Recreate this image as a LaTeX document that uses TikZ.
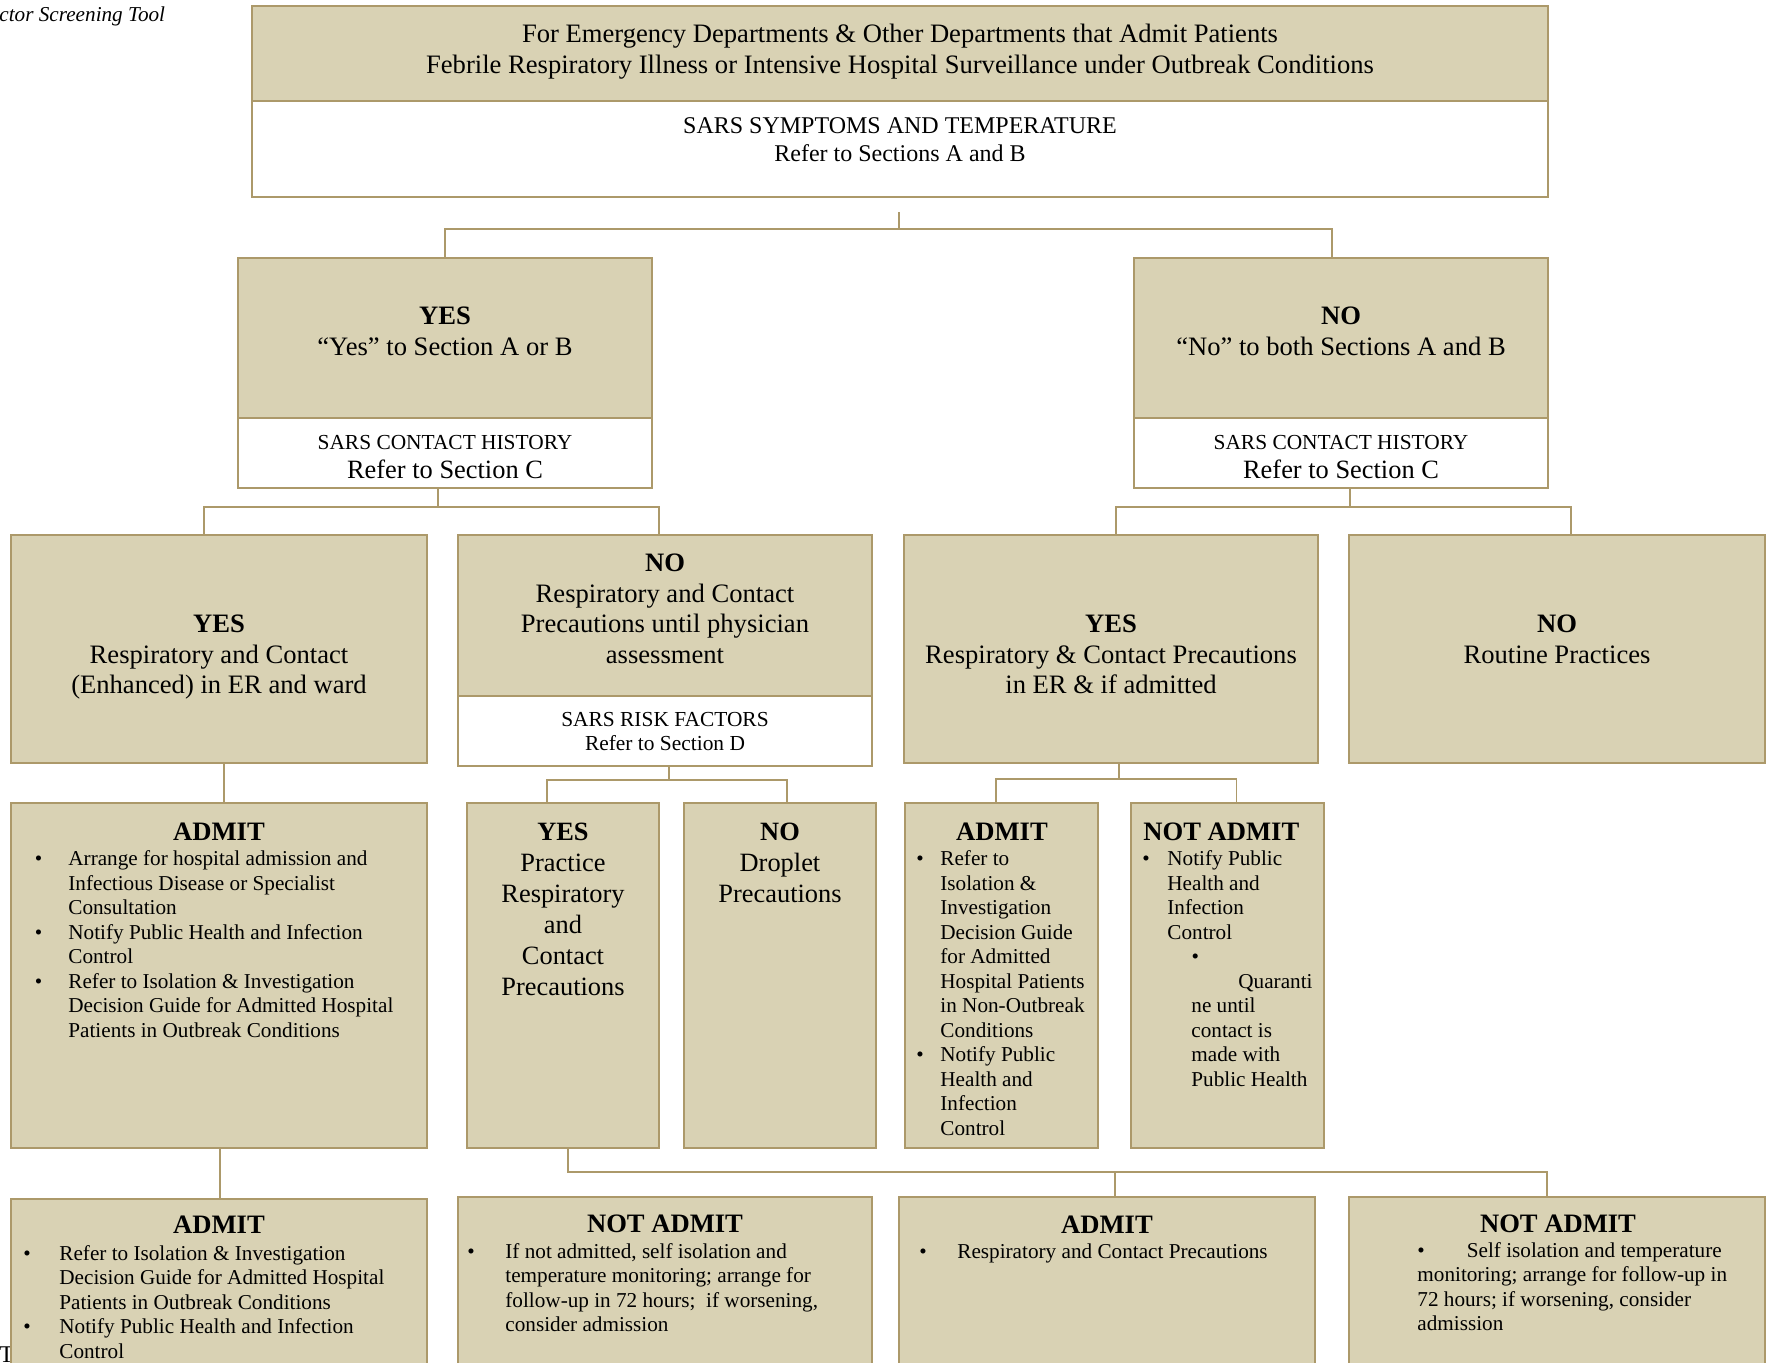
\documentclass[tikz,border=0pt]{standalone}
\usepackage{fontspec}
\setmainfont{Liberation Serif}
\definecolor{boxfill}{RGB}{217,210,180}
\definecolor{boxline}{RGB}{172,153,106}
\newcommand\fH{\fontsize{13.3}{15.75}\selectfont}
\newcommand\fS{\fontsize{12}{14}\selectfont}
\newcommand\fR{\fontsize{13.3}{15.4}\selectfont}
\newcommand\fK{\fontsize{10.7}{12.5}\selectfont}
\newcommand\fKK{\fontsize{10.7}{11.8}\selectfont}
\newcommand\fRef{\fontsize{13.2}{15}\selectfont}
\newcommand\fT{\fontsize{13.3}{15}\selectfont\bfseries}
\newcommand\fL{\fontsize{10.6}{12.25}\selectfont}
\newcommand\fP{\fontsize{13.2}{15.5}\selectfont}
\newcommand\bul[1]{\llap{\textbullet\hspace{#1}}}
\newcommand\bx[6]{\node[#1, minimum width={(#5-#3)*0.5pt}, minimum height={(#6-#4)*0.5pt}] (#2) at ({(#3+#5)/2},{(#4+#6)/2}) {};}
\begin{document}
\begin{tikzpicture}[x=0.5pt,y=-0.5pt,
  box/.style={draw=boxline, line width=1pt, fill=boxfill, inner sep=0pt, rectangle},
  wbox/.style={box, fill=white},
  conn/.style={draw=boxline, line width=0.9pt},
  t/.style={inner sep=0pt, align=center, anchor=north},
  tl/.style={inner sep=0pt, align=left, anchor=north west},
  tb/.style={inner sep=0pt, anchor=base}]
\useasboundingbox (0,0) rectangle (1767,1362);
\fill[white] (0,0) rectangle (1767,1362);
\clip (0,0) rectangle (1767,1362);

% stray texts
\node[tb, anchor=base west, font=\fontsize{10.6}{12}\selectfont\itshape] (ttl) at (-1,21) {ctor Screening Tool};
\node[tb, anchor=base west, font=\fontsize{12}{14}\selectfont] (ft) at (-1,1362) {T};

% boxes
\bx{wbox}{top}{252}{6}{1548}{197}
\bx{box}{toph}{252}{6}{1548}{101}
\bx{wbox}{L1}{238}{258}{652}{488}
\bx{box}{L1h}{238}{258}{652}{418}
\bx{wbox}{R1}{1134}{258}{1548}{488}
\bx{box}{R1h}{1134}{258}{1548}{418}
\bx{box}{A}{11}{535}{427}{763}
\bx{wbox}{B}{458}{535}{872}{766}
\bx{box}{Bh}{458}{535}{872}{696}
\bx{box}{C}{904}{535}{1318}{763}
\bx{box}{D}{1349}{535}{1765}{763}
\bx{box}{A3}{11}{803}{427}{1148}
\bx{box}{B3a}{467}{803}{659}{1148}
\bx{box}{B3b}{684}{803}{876}{1148}
\bx{box}{C3a}{905}{803}{1098}{1148}
\bx{box}{C3b}{1131}{803}{1324}{1148}
\bx{box}{A4}{11}{1199}{427}{1420}
\bx{box}{B4}{458}{1197}{872}{1420}
\bx{box}{C4}{899}{1197}{1315}{1420}
\bx{box}{D4}{1349}{1197}{1765}{1420}

% connectors
\coordinate (j0) at (899,229);
\draw[conn] ([xshift=-0.5pt,yshift=-7pt]top.south) -- (j0);
\draw[conn] (L1.north) |- (j0) -| ([xshift=-4.5pt]R1.north);
\coordinate (j1) at (438,507);
\draw[conn] (j1 |- L1.south) -- (j1);
\draw[conn] ([xshift=-7.5pt]A.north) |- (j1) -| ([xshift=-3pt]B.north);
\coordinate (j2) at (1350,507);
\draw[conn] (j2 |- R1.south) -- (j2);
\draw[conn] ([xshift=2.5pt]C.north) |- (j2) -| ([xshift=7pt]D.north);
\draw[conn] ([xshift=2.5pt]A.south) -- ([xshift=2.5pt]A3.north);
\coordinate (j3) at (669,780);
\draw[conn] (j3 |- B.south) -- (j3);
\draw[conn] ([xshift=-8pt]B3a.north) |- (j3) -| ([xshift=3.5pt]B3b.north);
\coordinate (j4) at (1119,779);
\draw[conn] (j4 |- C.south) -- (j4);
\draw[conn] ([xshift=-2.75pt]C3a.north) |- (j4) -| ([xshift=4.5pt]C3b.north);
\draw[conn] ([xshift=0.5pt]A3.south) -- ([xshift=0.5pt]A4.north);
\coordinate (j5) at (568,1172);
\draw[conn] ([xshift=2.5pt]B3a.south) -- (j5) -| ([xshift=-5pt]D4.north);
\draw[conn] ([xshift=4pt]C4.north) -- ([xshift=4pt]C4.north |- j5);

% texts: top
\node[t, font=\fH] (hdr) at (900,20) {\strut For Emergency Departments \& Other Departments that Admit Patients\\Febrile Respiratory Illness or Intensive Hospital Surveillance under Outbreak Conditions};
\node[t, font=\fS] (sym) at (900,113.4) {\strut SARS SYMPTOMS AND TEMPERATURE\\Refer to Sections A and B};
% row 1
\node[t, font=\fH] (L1t) at (445,302) {\strut\textbf{YES}\\“Yes” to Section A or B};
\node[tb, font=\fK] (L1s) at (445,449) {SARS CONTACT HISTORY};
\node[tb, font=\fRef] (L1r) at (445,478) {Refer to Section C};
\node[t, font=\fH] (R1t) at (1341,302) {\strut\textbf{NO}\\“No” to both Sections A and B};
\node[tb, font=\fK] (R1s) at (1341,449) {SARS CONTACT HISTORY};
\node[tb, font=\fRef] (R1r) at (1341,478) {Refer to Section C};
% row 2
\node[t, font=\fR] (At) at (219,610.4) {\strut\textbf{YES}\\Respiratory and Contact\\(Enhanced) in ER and ward};
\node[t, font=\fR] (Bt) at (665,549.4) {\strut\textbf{NO}\\Respiratory and Contact\\Precautions until physician\\assessment};
\node[t, font=\fKK] (Bs) at (665,710) {\strut SARS RISK FACTORS\\Refer to Section D};
\node[t, font=\fR] (Ct) at (1111,610.4) {\strut\textbf{YES}\\Respiratory \& Contact Precautions\\in ER \& if admitted};
\node[t, font=\fR] (Dt) at (1557,610.4) {\strut\textbf{NO}\\Routine Practices};
% row 3
\node[tb, font=\fT] (A3t) at (219,840) {ADMIT};
\node[tl, font=\fL] (A3l) at (68,848) {\strut\bul{13pt}Arrange for hospital admission and\\Infectious Disease or Specialist\\Consultation\\\bul{13pt}Notify Public Health and Infection\\Control\\\bul{13pt}Refer to Isolation \& Investigation\\Decision Guide for Admitted Hospital\\Patients in Outbreak Conditions};
\node[t, font=\fP] (B3at) at (563,818.3) {\strut\textbf{YES}\\Practice\\Respiratory\\and\\Contact\\Precautions};
\node[t, font=\fP] (B3bt) at (780,818.3) {\strut\textbf{NO}\\Droplet\\Precautions};
\node[tb, font=\fT] (C3at) at (1002,840) {ADMIT};
\node[tl, font=\fL] (C3al) at (940,848) {\strut\bul{8.25pt}Refer to\\Isolation \&\\Investigation\\Decision Guide\\for Admitted\\Hospital Patients\\in Non-Outbreak\\Conditions\\\bul{8.25pt}Notify Public\\Health and\\Infection\\Control};
\node[tb, anchor=base west, font=\fT] (C3bt) at (1143,840) {NOT ADMIT};
\node[tl, font=\fL] (C3bl) at (1167,848) {\strut\bul{8.75pt}Notify Public\\Health and\\Infection\\Control\\\hspace*{12.15pt}\textbullet\\\hspace*{35.5pt}Quaranti\\\hspace*{12pt}ne until\\\hspace*{12pt}contact is\\\hspace*{12pt}made with\\\hspace*{12pt}Public Health};
% row 4
\node[tb, font=\fT] (A4t) at (219,1233) {ADMIT};
\node[tl, font=\fL] (A4l) at (59,1242.85) {\strut\bul{14.25pt}Refer to Isolation \& Investigation\\Decision Guide for Admitted Hospital\\Patients in Outbreak Conditions\\\bul{14.25pt}Notify Public Health and Infection\\Control};
\node[tb, font=\fT] (B4t) at (665,1232) {NOT ADMIT};
\node[tl, font=\fL] (B4l) at (505,1240.85) {\strut\bul{15.25pt}If not admitted, self isolation and\\temperature monitoring; arrange for\\follow-up in 72 hours;\ \ if worsening,\\consider admission};
\node[tb, font=\fT] (C4t) at (1107,1233) {ADMIT};
\node[tl, font=\fL] (C4l) at (957,1240.85) {\strut\bul{15.25pt}Respiratory and Contact Precautions};
\node[tb, font=\fT] (D4t) at (1558,1232) {NOT ADMIT};
\node[tl, font=\fL] (D4l) at (1417,1239.85) {\strut\textbullet\hspace{21pt}Self isolation and temperature\\monitoring; arrange for follow-up in\\72 hours; if worsening, consider\\admission};
\end{tikzpicture}
\end{document}
